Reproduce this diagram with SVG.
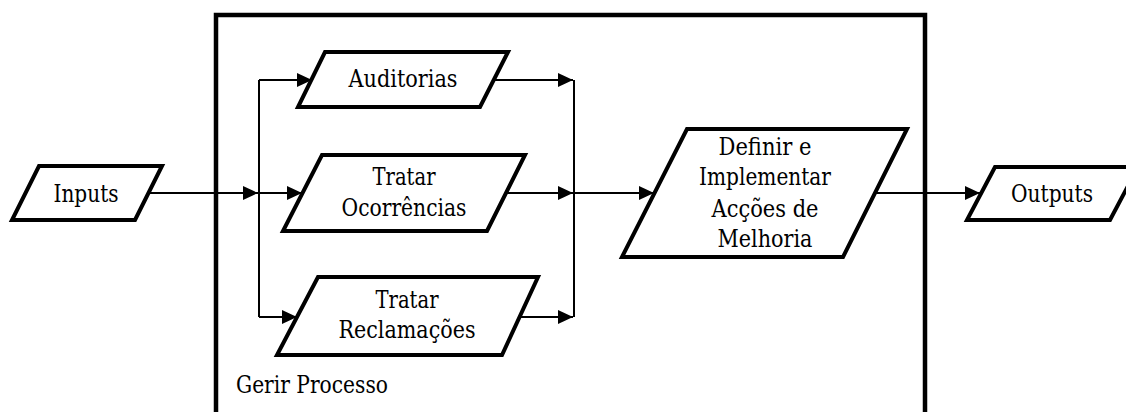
<svg xmlns="http://www.w3.org/2000/svg" width="1126" height="412" viewBox="0 0 1126 412">
  <style>
    .shape { fill: #ffffff; stroke: #000000; stroke-width: 4; stroke-linejoin: miter; }
    .frame { fill: none; stroke: #000000; stroke-width: 4.5; }
    .wire { fill: none; stroke: #000000; stroke-width: 2; }
    text { font-family: "DejaVu Serif", "Liberation Serif", serif; font-size: 23.5px; fill: #000000; }
    .mid { text-anchor: middle; }
  </style>
  <defs>
    <marker id="arrow" markerUnits="userSpaceOnUse" markerWidth="16" markerHeight="14" refX="15" refY="7" orient="auto">
      <path d="M0,0 L15,7 L0,14 z" fill="#000000"/>
    </marker>
  </defs>

  <!-- process boundary -->
  <g id="gerir-processo">
    <rect class="frame" x="216" y="15" width="709" height="420"/>
    <text x="236" y="393" textLength="152" lengthAdjust="spacingAndGlyphs">Gerir Processo</text>
  </g>

  <!-- connectors -->
  <g id="connectors">
    <line class="wire" x1="149" y1="193" x2="258" y2="193" marker-end="url(#arrow)"/>
    <polyline class="wire" points="259,80 259,317"/>
    <line class="wire" x1="259" y1="80" x2="312" y2="80" marker-end="url(#arrow)"/>
    <line class="wire" x1="259" y1="193" x2="302" y2="193" marker-end="url(#arrow)"/>
    <line class="wire" x1="259" y1="317" x2="297" y2="317" marker-end="url(#arrow)"/>
    <line class="wire" x1="494" y1="80" x2="573" y2="80" marker-end="url(#arrow)"/>
    <line class="wire" x1="506" y1="193" x2="573" y2="193" marker-end="url(#arrow)"/>
    <line class="wire" x1="519" y1="317" x2="573" y2="317" marker-end="url(#arrow)"/>
    <polyline class="wire" points="574,80 574,317"/>
    <line class="wire" x1="574" y1="193" x2="654" y2="193" marker-end="url(#arrow)"/>
    <line class="wire" x1="875" y1="193" x2="980" y2="193" marker-end="url(#arrow)"/>
  </g>

  <g id="inputs">
    <polygon class="shape" points="39,166 162,166 135,220 12,220"/>
    <text class="mid" x="86" y="202" textLength="65" lengthAdjust="spacingAndGlyphs">Inputs</text>
  </g>

  <g id="auditorias">
    <polygon class="shape" points="325,52 508,52 480,107 298,107"/>
    <text class="mid" x="403" y="87" textLength="109" lengthAdjust="spacingAndGlyphs">Auditorias</text>
  </g>

  <g id="tratar-ocorrencias">
    <polygon class="shape" points="322,155 525,155 487,231 283,231"/>
    <text class="mid" x="404" y="185" textLength="63" lengthAdjust="spacingAndGlyphs">Tratar</text>
    <text class="mid" x="404" y="216" textLength="125" lengthAdjust="spacingAndGlyphs">Ocorrências</text>
  </g>

  <g id="tratar-reclamacoes">
    <polygon class="shape" points="318,277 538,277 502,355 277,355"/>
    <text class="mid" x="407" y="308" textLength="63" lengthAdjust="spacingAndGlyphs">Tratar</text>
    <text class="mid" x="407" y="338" textLength="137" lengthAdjust="spacingAndGlyphs">Reclamações</text>
  </g>

  <g id="definir-implementar">
    <polygon class="shape" points="687,129 907,129 843,257 622,257"/>
    <text class="mid" x="765" y="155" textLength="93" lengthAdjust="spacingAndGlyphs">Definir e</text>
    <text class="mid" x="765" y="185" textLength="132" lengthAdjust="spacingAndGlyphs">Implementar</text>
    <text class="mid" x="765" y="217" textLength="107" lengthAdjust="spacingAndGlyphs">Acções de</text>
    <text class="mid" x="765" y="247" textLength="95" lengthAdjust="spacingAndGlyphs">Melhoria</text>
  </g>

  <g id="outputs">
    <polygon class="shape" points="995,167 1138,167 1110,220 967,220"/>
    <text class="mid" x="1052" y="202" textLength="82" lengthAdjust="spacingAndGlyphs">Outputs</text>
  </g>
</svg>
